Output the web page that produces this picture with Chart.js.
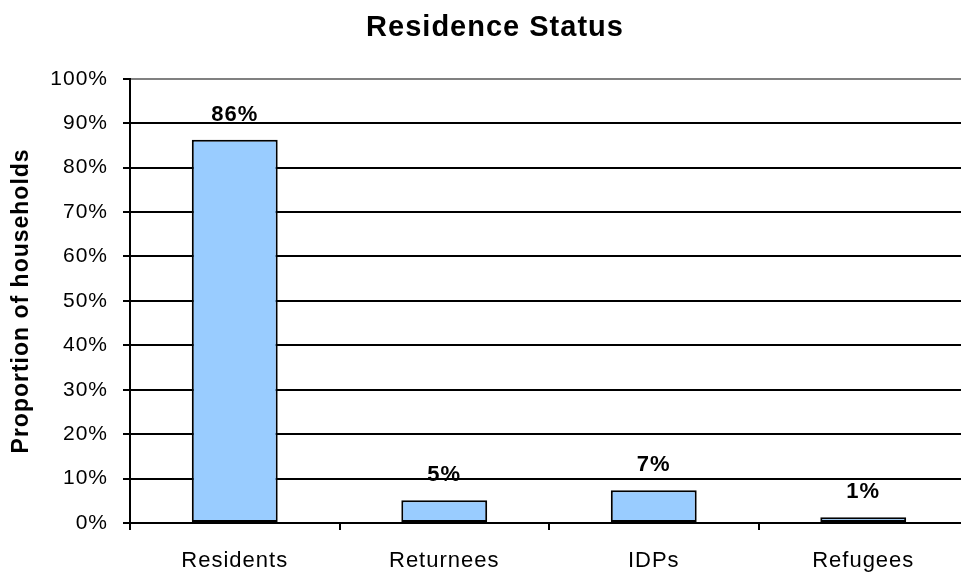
<!DOCTYPE html>
<html>
<head>
<meta charset="utf-8">
<script src="https://cdn.jsdelivr.net/npm/chart.js@4"></script>
<style>
  html, body { margin: 0; padding: 0; background: #fff; overflow: hidden; }
</style>
</head>
<body>
<canvas id="chart" width="990" height="573"></canvas>
<script>
// data
const categories = ['Residents', 'Returnees', 'IDPs', 'Refugees'];
const shares = [86.3, 5.1, 7.4, 1.3];
const yMin = 0;
const yMax = 100;
const yStep = 10;

const FONT = '"Liberation Sans", Arial, sans-serif';

// wider text spacing, like the original GDI rendering
const spacingPlugin = {
    id: 'spacing',
    beforeDraw(chart) {
        chart.ctx.letterSpacing = '1px';
    }
};

// bold value labels above each bar
const valueLabels = {
    id: 'valueLabels',
    afterDatasetsDraw(chart) {
        const ctx = chart.ctx;
        const meta = chart.getDatasetMeta(0);
        ctx.save();
        ctx.letterSpacing = '1px';
        ctx.font = 'bold 22px ' + FONT;
        ctx.fillStyle = '#000';
        ctx.textAlign = 'center';
        ctx.textBaseline = 'middle';
        meta.data.forEach((bar, i) => {
            ctx.fillText(Math.round(shares[i]) + '%', bar.x, bar.y - 25);
        });
        ctx.restore();
    }
};

new Chart(document.getElementById('chart'), {
    type: 'bar',
    data: {
        labels: categories,
        datasets: [{
            data: shares,
            backgroundColor: '#99CCFF',
            borderColor: '#000',
            borderWidth: 2,
            borderSkipped: false,
            barPercentage: 0.41,
            categoryPercentage: 1
        }]
    },
    options: {
        responsive: false,
        animation: false,
        layout: { padding: { left: 22, right: 22, top: 0, bottom: 0 } },
        plugins: {
            legend: { display: false },
            tooltip: { enabled: false },
            title: {
                display: true,
                text: 'Residence Status',
                color: '#000',
                font: { family: FONT, size: 29, weight: 'bold' },
                padding: { top: 11, bottom: 33 }
            }
        },
        scales: {
            x: {
                grid: { drawOnChartArea: false, tickLength: 7, color: '#000', lineWidth: 2 },
                border: { color: '#000', width: 2 },
                ticks: { color: '#000', font: { family: FONT, size: 22 }, padding: 18, maxRotation: 0 },
                afterFit(scale) { scale.height = 50; }
            },
            y: {
                min: yMin,
                max: yMax,
                ticks: {
                    stepSize: yStep,
                    color: '#000',
                    font: { family: FONT, size: 21 },
                    padding: 15,
                    callback: v => v + '%'
                },
                grid: {
                    color: c => (c.tick && c.tick.value === yMax) ? '#808080' : '#000',
                    tickColor: '#000',
                    lineWidth: 2,
                    tickLength: 7
                },
                border: { color: '#000', width: 2 },
                title: {
                    display: true,
                    text: 'Proportion of households',
                    color: '#000',
                    font: { family: FONT, size: 23, weight: 'bold' },
                    padding: { top: -14, bottom: 0 }
                },
                afterFit(scale) { scale.width = 108; }
            }
        }
    },
    plugins: [spacingPlugin, valueLabels]
});
</script>
</body>
</html>
